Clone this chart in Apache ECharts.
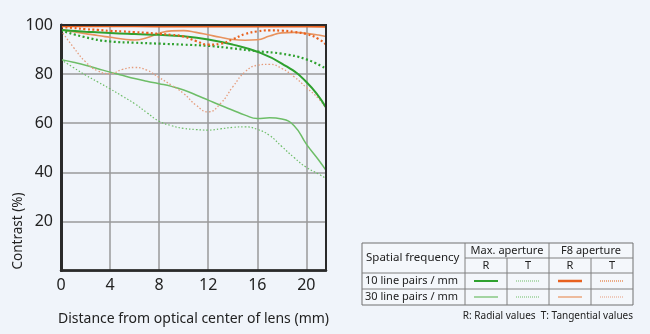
<!DOCTYPE html>
<html>
<head>
<meta charset="utf-8">
<script src="https://cdn.jsdelivr.net/npm/echarts@6/dist/echarts.min.js"></script>
<style>
  html, body { margin: 0; padding: 0; background: #f0f4fa; }
  #chart { width: 650px; height: 334px; }
</style>
</head>
<body>
<div id="chart"></div>
<script>
// MTF curves: contrast (%) against distance from the optical centre (mm)
const xTicks = [0, 4, 8, 12, 16, 20];
const yTicks = [20, 40, 60, 80, 100];

// Max. aperture, 10 line pairs / mm
const maxAp10R = [[0,98],[2,97.3],[4,96.7],[6,96.3],[8,96],[10,95.4],[12,94.1],[14,92],[16,89.1],[18,84.3],[20,76.8],[21.6,66.4]];
const maxAp10T = [[0,97.8],[2,95],[4,93.3],[6,92.8],[8,92.4],[10,92],[12,91.5],[14,90.5],[16,89.3],[18,88.3],[20,86],[21.6,82.2]];
// Max. aperture, 30 line pairs / mm
const maxAp30R = [[0,85.9],[1,84.8],[2,83.6],[3,82.2],[4,80.8],[5,79.5],[6,78.2],[7,77.1],[8,76.1],[9,75],[10,73.5],[11,71.5],[12,69.4],[13,67.3],[14,65.3],[15,63.3],[16,61.9],[17,62.2],[18,61.7],[19,59],[20,51.5],[21,45],[21.6,40.8]];
const maxAp30T = [[0,85.9],[1,82.7],[2,79.6],[3,76.8],[4,74],[5,71],[6,68],[7,64.3],[8,60.8],[9,59],[10,57.9],[11,57.4],[12,57.2],[13,57.7],[14,58.3],[15,58.5],[16,57.5],[17,55],[18,50.5],[19,46],[20,42],[21,39.3],[21.6,37.5]];
// F8 aperture, 10 line pairs / mm
const f8Ap10R = [[0,99.6],[4,99.6],[8,99.5],[12,99.5],[16,99.5],[20,99.5],[21.6,99.4]];
const f8Ap10T = [[0,99.2],[1,98.8],[2,98.3],[3,98],[4,97.6],[5,97.4],[6,97.1],[7,96.8],[8,96.4],[9,96],[10,95.3],[11,93.5],[12,92],[13,92.4],[14,94.2],[15,96.3],[16,97.4],[17,97.8],[18,97.7],[19,97.2],[20,96.3],[21,94.3],[21.6,92]];
// F8 aperture, 30 line pairs / mm
const f8Ap30R = [[0,98.1],[1,97.3],[2,96.5],[3,95.7],[4,95],[5,94.3],[6,93.9],[7,94.8],[8,96.6],[9,97.6],[10,97.7],[11,97],[12,96],[13,95],[14,94.1],[15,93.8],[16,94],[17,95.5],[18,96.8],[19,97],[20,96.6],[21,95.9],[21.6,95.3]];
const f8Ap30T = [[0,97.8],[1,91],[2,85],[3,81.3],[4,80.2],[5,81.9],[6,82.7],[7,81.6],[8,78.6],[9,75.5],[10,72.1],[11,67.4],[12,64.6],[13,68],[14,74.8],[15,80.9],[16,83.6],[17,84],[18,82.3],[19,78.9],[20,74.5],[21,70],[21.6,66]];

const GREEN = '#2fa12f';
const GREEN_LIGHT = '#6dbd67';
const ORANGE = '#e8611f';
const ORANGE_LIGHT = '#e8935f';
const ORANGE_PALE = '#e59c7c';

function curve(name, data, color, width, type) {
  return {
    name, type: 'line', data, smooth: 0.5, symbol: 'none',
    lineStyle: { color, width, type },
    emphasis: { disabled: true }, z: 3
  };
}

const chart = echarts.init(document.getElementById('chart'), null, { renderer: 'canvas' });

const FONT = '"Noto Sans", "Open Sans", sans-serif';

// Legend table geometry
const T = { x0: 362, x1: 465, x2: 507, x3: 549, x4: 591, x5: 633, y0: 243, y1: 258, y2: 273, y3: 289, y4: 305 };
const gridStroke = { stroke: '#808080', lineWidth: 1 };
function hline(x1, x2, y) { return { type: 'line', shape: { x1, y1: y, x2, y2: y }, style: gridStroke }; }
function vline(x, y1, y2) { return { type: 'line', shape: { x1: x, y1, x2: x, y2 }, style: gridStroke }; }
function label(text, x, y, align, size) {
  return { type: 'text', x, y, style: { text, fill: '#222', font: (size || 11) + 'px ' + FONT, align: align || 'center', verticalAlign: 'middle' } };
}
function sample(cx, cy, color, width, dash) {
  return { type: 'line', shape: { x1: cx - 12, y1: cy, x2: cx + 12, y2: cy }, style: { stroke: color, lineWidth: width, lineDash: dash || null } };
}

const r10 = (T.y2 + T.y3) / 2, r30 = (T.y3 + T.y4) / 2;
const cR1 = (T.x1 + T.x2) / 2, cT1 = (T.x2 + T.x3) / 2, cR2 = (T.x3 + T.x4) / 2, cT2 = (T.x4 + T.x5) / 2;

const tableGraphics = [
  { type: 'rect', shape: { x: T.x0, y: T.y0, width: T.x5 - T.x0, height: T.y4 - T.y0 }, style: { fill: '#f4f7fb', stroke: '#707070', lineWidth: 1 } },
  hline(T.x1, T.x5, T.y1),
  hline(T.x0, T.x5, T.y2),
  hline(T.x0, T.x5, T.y3),
  vline(T.x1, T.y0, T.y4),
  vline(T.x2, T.y1, T.y4),
  vline(T.x3, T.y0, T.y4),
  vline(T.x4, T.y1, T.y4),
  label('Spatial frequency', T.x0 + 4, (T.y0 + T.y2) / 2, 'left', 11.5),
  label('Max. aperture', (T.x1 + T.x3) / 2, (T.y0 + T.y1) / 2),
  label('F8 aperture', (T.x3 + T.x5) / 2, (T.y0 + T.y1) / 2),
  label('R', cR1, (T.y1 + T.y2) / 2), label('T', cT1, (T.y1 + T.y2) / 2),
  label('R', cR2, (T.y1 + T.y2) / 2), label('T', cT2, (T.y1 + T.y2) / 2),
  label('10 line pairs / mm', T.x0 + 3, r10, 'left'),
  label('30 line pairs / mm', T.x0 + 3, r30, 'left'),
  sample(cR1, r10, GREEN, 2),
  sample(cT1, r10, GREEN_LIGHT, 1, [1, 1]),
  sample(cR2, r10, ORANGE, 2.5),
  sample(cT2, r10, ORANGE_LIGHT, 1.5, [1, 1]),
  sample(cR1, r30, GREEN_LIGHT, 1.2),
  sample(cT1, r30, GREEN_LIGHT, 1, [1, 1]),
  sample(cR2, r30, ORANGE_LIGHT, 1.2),
  sample(cT2, r30, ORANGE_PALE, 1, [1, 1]),
  label('R: Radial values  T: Tangential values', T.x5, 316, 'right', 10)
];

chart.setOption({
  backgroundColor: '#f0f4fa',
  animation: false,
  textStyle: { fontFamily: FONT },
  grid: { left: 61, right: 324, top: 25, bottom: 63.5, show: true, borderColor: '#2a2a2a', borderWidth: 2, backgroundColor: 'transparent', z: 4 },
  xAxis: {
    type: 'value', min: 0, max: 21.6, interval: 4,
    name: 'Distance from optical center of lens (mm)',
    nameLocation: 'middle', nameGap: 42,
    nameTextStyle: { fontSize: 14, color: '#222', fontFamily: FONT },
    axisLine: { show: true, lineStyle: { color: '#2a2a2a', width: 2.5 } },
    axisTick: { show: false },
    axisLabel: {
      fontSize: 16, color: '#222', margin: 7, fontFamily: FONT, showMaxLabel: false,
      formatter: v => (xTicks.indexOf(v) >= 0 ? String(v) : '')
    },
    splitLine: { show: true, lineStyle: { color: '#9a9a9a', width: 1.5 } }
  },
  yAxis: {
    type: 'value', min: 0, max: 100, interval: 20,
    axisLine: { show: true, lineStyle: { color: '#2a2a2a', width: 3 } },
    axisTick: { show: false },
    axisLabel: {
      fontSize: 16, color: '#222', margin: 8, fontFamily: FONT,
      formatter: v => (yTicks.indexOf(v) >= 0 ? String(v) : '')
    },
    splitLine: { show: true, lineStyle: { color: '#9a9a9a', width: 1.5 } }
  },
  series: [
    curve('Max 30 T', maxAp30T, GREEN_LIGHT, 1.2, [1.5, 2]),
    curve('Max 30 R', maxAp30R, GREEN_LIGHT, 1.5, 'solid'),
    curve('F8 30 T', f8Ap30T, ORANGE_PALE, 1.3, [1.5, 2]),
    curve('F8 30 R', f8Ap30R, ORANGE_LIGHT, 1.6, 'solid'),
    curve('Max 10 T', maxAp10T, GREEN, 2.2, [2, 2.5]),
    curve('Max 10 R', maxAp10R, GREEN, 2, 'solid'),
    curve('F8 10 T', f8Ap10T, ORANGE, 2.2, [2, 2.5]),
    curve('F8 10 R', f8Ap10R, ORANGE, 2.5, 'solid')
  ],
  graphic: [
    { type: 'text', x: 18, y: 231, rotation: Math.PI / 2, style: { text: 'Contrast (%)', fill: '#222', font: '13.5px ' + FONT, align: 'center', verticalAlign: 'middle' } }
  ].concat(tableGraphics)
});
</script>
</body>
</html>
